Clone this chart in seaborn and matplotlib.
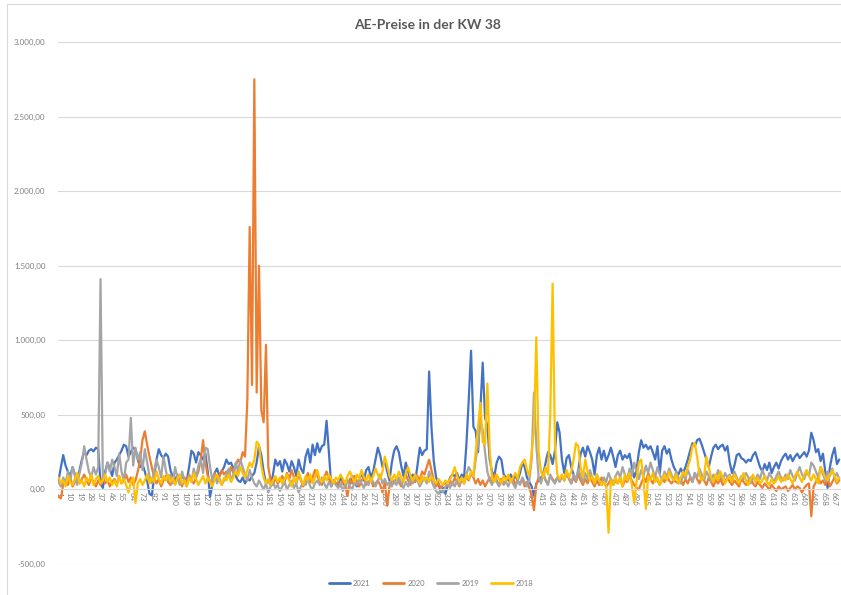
import matplotlib
matplotlib.use("Agg")
import matplotlib.pyplot as plt
import pandas as pd
import seaborn as sns
from matplotlib.lines import Line2D
from matplotlib.ticker import FuncFormatter

title = "AE-Preise in der KW 38"
years = ["2021", "2020", "2019", "2018"]
colors = ["#4472C4", "#ED7D31", "#A5A5A5", "#FFC000"]

# quarter-hour slots of the week (1..672), one value every second slot
n_slots = 672
slot_step = 2

p2021 = [
    60, 150, 230, 160, 120, 90, 150, 100, 60, 130, 200, 250, 230, 260, 270, 255, 280, 270, 40, 10, 120, 180, 140, 90,
    180, 200, 230, 260, 300, 290, 220, 250, 280, 270, 200, 150, 170, 120, 60, -30, -40, 80, 200, 270, 230, 210, 240, 220,
    130, 80, 60, 100, 50, 90, 70, 60, 150, 260, 240, 180, 250, 230, 200, 240, 120, -50, 30, 110, 140, 90, 120, 150,
    200, 170, 180, 140, 90, 60, 50, 80, 40, 70, 60, 90, 110, 180, 290, 230, 120, 40, 60, 30, 100, 200, 160, 190,
    120, 200, 170, 120, 190, 150, 90, 200, 140, 110, 220, 270, 180, 300, 230, 310, 250, 290, 300, 460, 250, 20, 60, 40,
    30, 80, 50, 20, 60, 40, 90, 50, 20, 70, 110, 60, 130, 150, 80, 120, 200, 280, 230, 150, 200, 120, 60, 180,
    260, 290, 250, 160, 90, 180, 120, 60, 100, 50, 160, 280, 230, 260, 270, 790, 420, 190, 80, 40, -20, 10, -30, 30,
    80, 100, 90, 110, 60, 100, 80, 300, 600, 930, 420, 390, 250, 540, 850, 480, 430, 200, 120, 90, 180, 220, 200, 100,
    80, 60, 100, 70, 90, 60, 110, 180, 150, 80, 50, 20, -40, 40, 60, 80, 100, 180, 250, 230, 170, 260, 450, 380,
    200, 110, 210, 230, 150, 100, 60, 120, 240, 280, 220, 290, 250, 200, 100, 230, 280, 200, 260, 190, 230, 280, 220, 150,
    230, 260, 200, 230, 210, 240, 150, 80, 130, 250, 330, 280, 300, 270, 290, 250, 200, 290, 110, 260, 290, 240, 270, 200,
    150, 120, 100, 140, 110, 150, 200, 260, 310, 290, 330, 340, 300, 250, 200, 150, 220, 280, 300, 270, 290, 300, 260, 290,
    180, 110, 160, 230, 240, 210, 200, 180, 200, 190, 230, 250, 200, 150, 120, 170, 130, 180, 110, 150, 180, 140, 190, 220,
    240, 200, 230, 190, 220, 240, 210, 230, 250, 220, 260, 380, 330, 250, 270, 190, 240, 120, 10, 150, 230, 280, 170, 200,
]

p2020 = [
    -50, -60, 40, 60, 30, 80, 20, 50, 90, 40, 70, 100, 60, 30, 80, 50, 20, 60, 30, 80, 40, 60, 20, 50,
    70, 30, 90, 40, 60, 100, 50, 80, 30, 60, 120, 200, 330, 390, 300, 220, 150, 80, 40, 70, 20, 60, 90, 50,
    30, 70, 40, 90, 60, 20, 80, 50, 100, 60, 40, 80, 120, 200, 330, 180, 90, 50, 70, 110, 60, 90, 130, 100,
    120, 90, 150, 110, 160, 200, 180, 250, 220, 600, 1760, 700, 2750, 650, 1500, 530, 450, 970, 150, 60, 30, 80, 40, 60,
    90, 50, 110, 70, 130, 80, 40, 100, 60, 20, 70, 110, 50, 80, 130, 90, 60, 30, 80, 120, 70, 40, 60, 30,
    50, 20, 60, 30, -45, 70, 40, 90, 50, 20, 60, 80, 30, 50, 70, 20, 40, 60, 30, -20, 50, -110, 20, 60,
    40, 80, 50, 20, 70, 100, 60, 30, 80, 50, 90, 60, 120, 100, 150, 200, 130, 60, 20, 40, 10, 30, 50, 20,
    60, 30, 80, 50, 20, 70, 40, 90, 60, 110, 80, 40, 70, 30, 60, 20, 50, 80, 40, 100, 60, 30, 70, 40,
    60, 90, 50, 80, 30, 60, 40, 70, 20, 50, 10, -40, -140, 30, 80, 50, 100, 60, 40, 90, 70, 50, 80, 60,
    90, 60, 110, 70, 40, 80, 50, 100, 60, 30, 70, 40, 90, 50, 20, 60, 30, 80, 50, 20, 40, 70, 30, 60,
    40, 80, 20, 60, 50, 90, 60, 30, 10, 0, 40, 80, 50, 110, 70, 40, 90, 60, 30, 70, 50, 100, 60, 40,
    60, 50, 40, 60, 30, 70, 40, 80, 50, 110, 70, 40, 90, 60, 30, 80, 50, 20, 60, 40, 70, 30, 50, 80,
    50, 30, 60, 40, 20, 70, 50, 30, 60, 80, 40, 20, 50, 30, 10, 40, 20, 0, 30, 10, -10, 20, 0, 10,
    20, -10, 10, 30, 0, 20, 10, -20, 10, 30, 40, -180, 20, 50, 80, 40, 60, 30, 70, 20, 50, 80, 40, 60,
]

p2019 = [
    50, 20, 80, 40, 120, 60, 150, 90, 30, 110, 180, 290, 200, 120, 80, 150, 100, 150, 1410, 60, 100, 180, 120, 200,
    150, 90, 240, 120, 60, 180, 200, 480, 160, 280, 200, 250, 130, 270, 180, 90, 40, 120, 200, 150, 80, 220, 130, 60,
    100, 40, 150, 80, 30, 120, 60, 20, 90, 50, 140, 80, 160, 200, 110, 280, 270, 150, 60, 100, 40, 80, 30, 60,
    90, 140, 60, 100, 180, 120, 200, 150, 100, 60, 130, 80, 40, 20, 60, 30, 0, 40, -20, 20, 50, 10, 30, -10,
    20, 50, 0, 30, 60, 10, 40, -20, 20, 50, 30, 70, 20, 0, 40, 60, 30, 80, 40, 10, 50, 20, 60, 30,
    10, 40, -10, 30, 60, 20, 0, 50, 30, 70, 40, 10, 60, 30, 80, 50, 20, 60, 100, 40, 70, 30, 50, 20,
    60, 30, 80, 40, 10, 50, 20, 70, 40, 90, 60, 20, 50, 80, 40, 120, 60, 20, -10, -30, 0, -20, 20, 40,
    10, 50, 20, 60, 30, 80, 40, 100, 150, 120, 80, 200, 300, 460, 400, 250, 120, 60, 30, 80, 50, 20, 60, 30,
    50, 20, 70, 40, 10, 60, 30, 80, 50, 20, 60, 200, 650, 300, 80, 40, 120, 60, 30, 100, 60, 40, 80, 50,
    90, 60, 120, 80, 40, 100, 60, 140, 90, 50, 110, 70, 130, 80, 40, 100, 60, 30, 80, 50, 110, 70, 40, 90,
    120, 80, 150, 100, 60, 140, 90, 180, 120, 70, 130, 90, 160, 110, 180, 130, 80, 150, 100, 60, 120, 80, 140, 100,
    60, 120, 80, 40, 100, 70, 130, 90, 50, 110, 80, 140, 100, 60, 120, 90, 50, 100, 70, 130, 90, 60, 110, 80,
    100, 60, 120, 80, 50, 90, 70, 110, 80, 40, 90, 60, 100, 70, 130, 90, 60, 110, 80, 50, 90, 120, 80, 60,
    100, 70, 130, 90, 60, 110, 150, 100, 70, 120, 90, 180, 160, 120, 80, 150, 100, 60, 120, 90, 140, 80, 110, 70,
]

p2018 = [
    80, 40, 60, 20, 90, 50, 30, 70, 110, 40, 60, 20, 80, 50, 100, 30, 70, 90, 40, 60, 100, 50, 80, 30,
    60, 20, 90, 40, 70, 30, -20, 50, 80, -90, 40, 70, 30, 60, 100, 40, 80, 50, 120, 70, 40, 90, 60, 100,
    50, 80, 30, 70, 100, 40, 60, 20, 80, 50, 110, 70, 30, 60, 90, 40, 80, 50, 20, 70, 100, 60, 30, 80,
    60, 100, 50, 80, 120, 90, 150, 110, 80, 130, 180, 150, 200, 320, 300, 160, 80, 40, 70, 30, 60, 90, 50, 80,
    40, 70, 100, 60, 20, 80, 50, 120, 70, 30, 90, 60, 100, 40, 80, 130, 70, 50, 90, 60, 100, 70, 40, 80,
    60, 100, 70, 40, 90, 120, 80, 50, 100, 70, 130, 80, 60, 100, 50, 90, 140, 100, 70, 120, 220, 160, 90, 60,
    100, 70, 120, 80, 50, 110, 150, 90, 60, 100, 70, 40, 90, 60, 80, 50, 90, 60, 40, 70, 50, 30, 60, 40,
    70, 100, 150, 90, 50, 80, 40, 100, 70, 120, 90, 250, 420, 580, 320, 300, 710, 260, 80, 50, 100, 70, 40, 90,
    60, 100, 50, 80, 110, 70, 150, 180, 200, 130, 90, 250, 400, 1020, 250, 120, 80, 150, 100, 500, 1380, 300, 100, 70,
    100, 60, 130, 80, 120, 200, 310, 290, 150, 80, 200, 120, 60, 90, 40, 100, 60, 30, 50, 20, -290, 60, 30, 80,
    40, 80, 20, 100, 60, 110, 30, -90, 50, 180, 200, 60, -130, 90, 60, 110, 50, 80, 30, 70, 100, 60, 120, 80,
    60, 100, 40, 80, 120, 90, 150, 200, 290, 310, 220, 100, 60, 90, 220, 150, 80, 50, 100, 60, 120, 80, 40, 70,
    90, 50, 100, 70, 40, 80, 110, 60, 30, 70, 100, 50, 80, 40, 60, 90, 50, 30, 70, 40, 60, 90, 50, 80,
    60, 100, 70, 40, 90, 120, 80, 50, 100, 130, 90, 60, 100, 70, 40, 150, 120, 80, 60, 100, 130, 90, 50, 80,
]

y_ticks = [-500, 0, 500, 1000, 1500, 2000, 2500, 3000]
x_ticks = list(range(1, n_slots, 9))

series = {"2021": p2021, "2020": p2020, "2019": p2019, "2018": p2018}
rows = []
for year in years:
    for i, value in enumerate(series[year]):
        rows.append({"Slot": 1 + slot_step * i, "Preis": value, "Jahr": year})
df = pd.DataFrame(rows)


def de_number(v, _pos=None):
    s = f"{v:,.2f}"
    return s.replace(",", "#").replace(".", ",").replace("#", ".")


sns.set_style("white")
plt.rcParams["font.family"] = ["Lato", "DejaVu Sans"]

W, H = 841, 595
fig = plt.figure(figsize=(W / 100, H / 100), dpi=100)
ax = fig.add_axes([58 / W, 31 / H, 783 / W, 522 / H])

sns.lineplot(data=df, x="Slot", y="Preis", hue="Jahr", hue_order=years,
             palette=colors, linewidth=1.6, estimator=None, sort=False, ax=ax)

ax.set_xlim(0.5, n_slots + 0.5)
ax.set_ylim(y_ticks[0], y_ticks[-1])
ax.set_yticks(y_ticks)
ax.yaxis.set_major_formatter(FuncFormatter(de_number))
ax.set_xticks(x_ticks)
ax.set_xticklabels([str(t) for t in x_ticks])
ax.set_xlabel("")
ax.set_ylabel("")

ax.grid(axis="y", color="#D9D9D9", linewidth=0.8)
ax.grid(axis="x", visible=False)
ax.set_axisbelow(True)
for side in ("top", "right", "left"):
    ax.spines[side].set_visible(False)
ax.spines["bottom"].set_position(("data", 0))
ax.spines["bottom"].set_color("#D9D9D9")
ax.spines["bottom"].set_linewidth(0.8)
ax.tick_params(axis="x", length=0, labelrotation=-90, labelsize=5.8,
               labelcolor="#808080", pad=2)
ax.tick_params(axis="y", length=0, labelsize=5.8, labelcolor="#808080", pad=9)

handles, labels = ax.get_legend_handles_labels()
ax.get_legend().remove()
for h in handles:
    h.set_linewidth(2.0)
fig.legend(handles, labels, loc="center", bbox_to_anchor=(431 / W, 1 - 583 / H),
           ncol=4, frameon=False, fontsize=5.5, handlelength=2.8,
           handletextpad=0.4, columnspacing=1.6, labelcolor="#808080")

fig.text(428 / W, 1 - 25 / H, title, ha="center", va="center",
         fontsize=10, fontweight="bold", color="#595959")

# chart frame
fig.add_artist(Line2D([7 / W, 7 / W], [0, 1 - 4 / H], color="#D9D9D9", lw=0.8))
fig.add_artist(Line2D([7 / W, 1], [1 - 4 / H, 1 - 4 / H], color="#D9D9D9", lw=0.8))

fig.savefig("out.png", dpi=100)
